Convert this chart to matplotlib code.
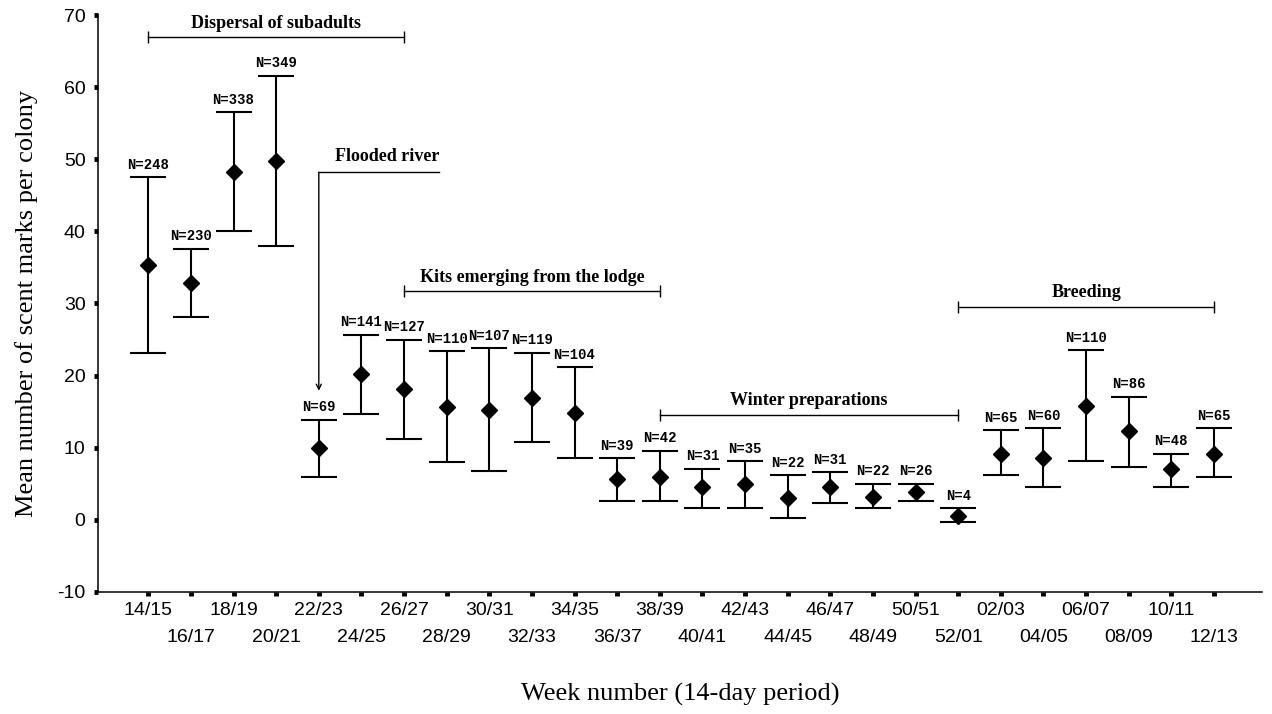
import numpy as np
import matplotlib
matplotlib.use('Agg')
import matplotlib.pyplot as plt

plt.rcParams['axes.unicode_minus'] = False

weeks = ['14/15', '16/17', '18/19', '20/21', '22/23', '24/25', '26/27', '28/29',
         '30/31', '32/33', '34/35', '36/37', '38/39', '40/41', '42/43', '44/45',
         '46/47', '48/49', '50/51', '52/01', '02/03', '04/05', '06/07', '08/09',
         '10/11', '12/13']
mean = [35.4, 32.9, 48.3, 49.8, 9.9, 20.2, 18.2, 15.7, 15.3, 16.9, 14.8, 5.6, 5.9,
        4.5, 5.0, 3.1, 4.5, 3.2, 3.8, 0.6, 9.2, 8.6, 15.8, 12.3, 7.0, 9.2]
upper = [47.5, 37.6, 56.5, 61.6, 13.9, 25.7, 25.0, 23.4, 23.8, 23.2, 21.2, 8.6, 9.6,
         7.1, 8.1, 6.2, 6.6, 5.0, 5.0, 1.6, 12.4, 12.7, 23.5, 17.1, 9.2, 12.7]
lower = [23.2, 28.1, 40.1, 38.0, 5.9, 14.7, 11.2, 8.0, 6.8, 10.8, 8.6, 2.6, 2.6,
         1.7, 1.7, 0.2, 2.3, 1.6, 2.6, -0.3, 6.2, 4.5, 8.2, 7.4, 4.5, 6.0]
n_obs = [248, 230, 338, 349, 69, 141, 127, 110, 107, 119, 104, 39, 42, 31, 35, 22,
         31, 22, 26, 4, 65, 60, 110, 86, 48, 65]

# life-cycle periods: label, first week index, last week index, height of bracket
periods = ['Dispersal of subadults', 'Kits emerging from the lodge',
           'Winter preparations', 'Breeding']
period_start = [0, 6, 12, 19]
period_end = [6, 12, 19, 25]
period_level = [66.9, 31.7, 14.6, 29.5]

# flood event pointer
flood_week = 4
flood_line_end = 6.82
flood_top = 48.2
flood_tip = 17.9

x = np.arange(len(weeks))
mean = np.array(mean)
upper = np.array(upper)
lower = np.array(lower)

fig = plt.figure(figsize=(12.72, 7.14), dpi=100)
ax = fig.add_axes([0.07704, 0.17087, 0.91486, 0.80812])

ax.errorbar(x, mean, yerr=[mean - lower, upper - mean], fmt='D', color='black',
            markersize=8.5, elinewidth=1.5, capsize=13.3, capthick=1.5)

for xi, top, n in zip(x, upper, n_obs):
    ax.annotate(f'N={n}', (xi, top), xytext=(0, 6), textcoords='offset points',
                ha='center', va='baseline', fontsize=10, fontweight='bold',
                family='Liberation Mono')

# period brackets
for name, s, e, lev in zip(periods, period_start, period_end, period_level):
    ax.plot([s, e], [lev, lev], color='black', lw=1, marker='|', markersize=9,
            markeredgewidth=1)
    ax.annotate(name, ((s + e) / 2, lev), xytext=(0, 7), textcoords='offset points',
                ha='center', va='baseline', fontsize=13, fontweight='bold',
                family='Liberation Serif')

# flooded river pointer
ax.plot([flood_week, flood_line_end], [flood_top, flood_top], color='black', lw=1)
ax.annotate('', xy=(flood_week, flood_tip), xytext=(flood_week, flood_top),
            arrowprops=dict(arrowstyle='->', color='black', lw=1, shrinkA=0,
                            shrinkB=0, mutation_scale=9))
ax.annotate('Flooded river', (flood_line_end, flood_top), xytext=(0, 8),
            textcoords='offset points', ha='right', va='baseline', fontsize=13,
            fontweight='bold', family='Liberation Serif')

ax.set_xlim(-1.18, 26.12)
ax.set_ylim(-10, 70)
ax.set_yticks(np.arange(-10, 71, 10))
ax.set_xticks(x[::2])
ax.set_xticklabels(weeks[::2])
ax.set_xticks(x[1::2], minor=True)
ax.set_xticklabels(weeks[1::2], minor=True)

for s in ['top', 'right']:
    ax.spines[s].set_visible(False)
for s in ['left', 'bottom']:
    ax.spines[s].set_linewidth(1.1)

ax.tick_params(axis='both', which='both', direction='out', length=3, width=3.5,
               color='black', labelsize=14)
ax.tick_params(axis='x', which='major', pad=4)
ax.tick_params(axis='x', which='minor', pad=24)
ax.tick_params(axis='y', pad=6)
for lab in ax.get_xticklabels(which='both') + ax.get_yticklabels():
    lab.set_family('Liberation Sans')

ax.set_ylabel('Mean number of scent marks per colony', fontsize=19,
              family='Liberation Serif', labelpad=14)
ax.set_xlabel('Week number (14-day period)', fontsize=19,
              family='Liberation Serif', labelpad=26)

fig.savefig('out.png', dpi=100)
